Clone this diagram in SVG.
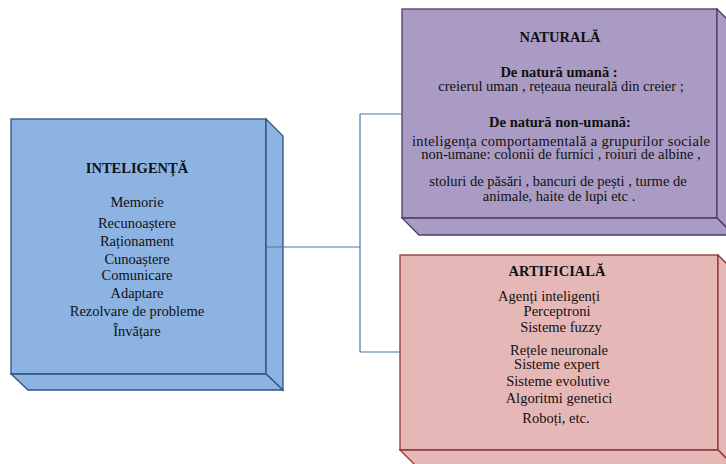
<svg xmlns="http://www.w3.org/2000/svg" width="726" height="464" viewBox="0 0 726 464">
  <style>
    text { font-family: "Liberation Serif", "Times New Roman", serif; font-size: 14.5px; fill: #111; text-anchor: middle; }
    .b { font-weight: bold; }
    .blue { fill: #8db3e2; stroke: #2f5283; stroke-width: 1.3; stroke-linejoin: miter; }
    .purple { fill: #a99bc4; stroke: #4f3b6b; stroke-width: 1.3; }
    .red { fill: #e5b7b6; stroke: #8f3534; stroke-width: 1.3; }
    .link { fill: none; stroke: #4a74ab; stroke-width: 1.2; }
  </style>

  <!-- central node -->
  <g id="inteligenta">
    <rect class="blue" x="11" y="119" width="255" height="255"/>
    <polygon class="blue" points="266,119 283,136 283,390 266,374"/>
    <polygon class="blue" points="11,374 266,374 283,390 28,390"/>
    <text class="b" x="137" y="173">INTELIGENȚĂ</text>
    <text x="137" y="207">Memorie</text>
    <text x="137" y="228">Recunoaștere</text>
    <text x="137" y="246">Raționament</text>
    <text x="137" y="264">Cunoaștere</text>
    <text x="137" y="280">Comunicare</text>
    <text x="137" y="298">Adaptare</text>
    <text x="137" y="316">Rezolvare de probleme</text>
    <text x="137" y="336">Învățare</text>
  </g>

  <!-- natural intelligence -->
  <g id="naturala">
    <rect class="purple" x="402" y="9" width="315" height="209"/>
    <polygon class="purple" points="717,9 734,26 734,235 717,218"/>
    <polygon class="purple" points="402,218 717,218 734,235 419,235"/>
    <text class="b" x="560" y="42">NATURALĂ</text>
    <text class="b" x="559" y="77">De natură umană :</text>
    <text x="561" y="91">creierul uman , rețeaua neurală din creier ;</text>
    <text class="b" x="560" y="127">De natură non-umană:</text>
    <text x="561" y="146" textLength="298" lengthAdjust="spacing">inteligența comportamentală a grupurilor sociale</text>
    <text x="561" y="159">non-umane: colonii de furnici , roiuri de albine ,</text>
    <text x="558" y="186">stoluri de păsări , bancuri de pești , turme de</text>
    <text x="559" y="201">animale, haite de lupi etc .</text>
  </g>

  <!-- artificial intelligence -->
  <g id="artificiala">
    <rect class="red" x="400" y="255" width="318" height="195"/>
    <polygon class="red" points="718,255 735,272 735,467 718,450"/>
    <polygon class="red" points="400,450 718,450 735,467 417,467"/>
    <text class="b" x="557" y="276">ARTIFICIALĂ</text>
    <text x="549" y="301">Agenți inteligenți</text>
    <text x="557" y="316">Perceptroni</text>
    <text x="561" y="332">Sisteme fuzzy</text>
    <text x="559" y="355">Rețele neuronale</text>
    <text x="557" y="369">Sisteme expert</text>
    <text x="558" y="386">Sisteme evolutive</text>
    <text x="559" y="403">Algoritmi genetici</text>
    <text x="556" y="423">Roboți, etc.</text>
  </g>

  <!-- tree connectors -->
  <g id="connectors">
    <path class="link" d="M266 247 H360 M360 114 V352 M360 114 H402 M360 352 H400"/>
  </g>
</svg>
